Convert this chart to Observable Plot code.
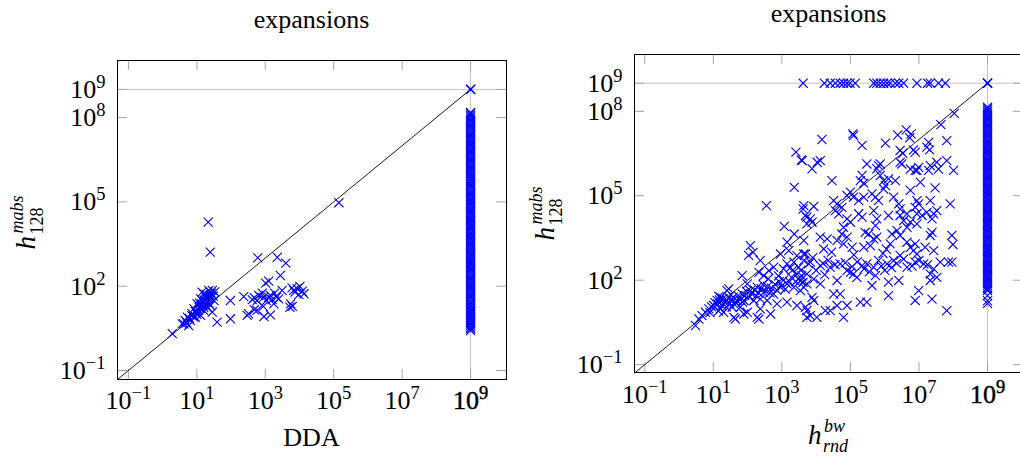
<!DOCTYPE html>
<html><head><meta charset="utf-8">
<script src="https://cdn.jsdelivr.net/npm/d3@7"></script>
<script src="https://cdn.jsdelivr.net/npm/@observablehq/plot@0.6"></script>
<style>
html,body{margin:0;padding:0;background:#fff;overflow:hidden;}
body{width:1020px;height:461px;position:relative;}
.panel{position:absolute;top:0;width:520px;height:461px;}
.panel svg{max-width:none !important;width:520px;height:461px;}
</style></head>
<body>
<div id="left" class="panel" style="left:0px"></div>
<div id="right" class="panel" style="left:520px"></div>
<script>
// ---- data (values stored as log10 exponents) ----
const xTicks = [1e-1, 1e1, 1e3, 1e5, 1e7, 1e9];
const yTicks = [1e-1, 1e2, 1e5, 1e8, 1e9];
const timeout = 1e9;

// left panel: [log10 DDA, log10 h128mabs]
const ddaPoints = [
 [0.28,0.31],[0.62,0.66],[0.76,0.60],[0.72,0.90],[0.86,1.02],[0.91,1.20],[1.01,1.37],[1.11,1.55],[1.20,1.73],
 [1.35,1.85],[1.40,1.67],[1.30,1.43],[1.20,1.14],[1.11,0.96],[0.96,0.90],[1.06,1.25],[1.15,1.37],[1.25,1.61],
 [1.40,1.31],[1.45,1.08],[0.91,0.90],[0.81,0.78],[1.01,1.08],[1.50,1.49],[1.30,1.25],[1.15,1.79],[1.45,1.85],
 [0.95,1.10],[1.00,1.00],[1.05,1.15],[1.08,1.40],[1.12,1.30],[1.18,1.45],[1.22,1.50],[1.25,1.35],[1.28,1.70],
 [1.33,1.55],[1.38,1.60],[1.42,1.75],[1.48,1.65],[1.52,1.80],[0.85,0.95],[0.78,0.85],[0.70,0.70],[0.66,0.78],
 [1.10,1.20],[1.20,1.25],[1.35,1.40],[0.57,0.66],
 [1.59,0.72],[1.98,0.84],[1.98,1.49],[1.33,4.28],[1.39,3.21],[5.15,4.97],
 [2.78,3.01],[3.35,3.03],[3.60,2.82],[3.44,2.38],[3.01,2.11],[3.10,2.18],[2.37,1.63],[2.62,1.52],[2.76,1.49],
 [2.81,1.67],[2.91,1.75],[3.03,1.49],[3.27,1.75],[3.49,1.85],[2.94,1.28],[2.51,1.02],[2.96,0.92],[3.15,0.98],
 [3.78,1.94],[4.01,1.99],[4.13,1.73],[3.74,1.37],[2.68,1.59],[2.96,1.61],[3.10,1.61],[3.15,1.67],[3.20,1.52],
 [3.33,1.61],[3.39,1.55],[3.25,1.37],[2.76,1.14],[2.47,0.96],[2.68,1.16],[3.83,1.85],[3.93,1.91],[4.08,1.82],
 [3.87,1.79],[3.98,1.70],[3.79,1.28],[3.72,1.25]
];
// left panel: log10 h128mabs of instances where DDA hit the 1e9 limit
const ddaTimeoutY = [0.42,0.48,0.53,0.60,0.66,0.71,0.78,0.84,0.90,0.97,1.03,1.09,1.16,1.21,1.28,1.34,1.41,1.46,1.53,1.60,
 1.65,1.72,1.78,1.85,1.91,1.97,2.04,2.10,2.16,2.23,2.29,2.35,2.42,2.48,2.55,2.61,2.67,2.74,2.80,2.86,2.93,2.99,3.05,
 3.12,3.18,3.24,3.31,3.37,3.44,3.50,3.56,3.63,3.69,3.75,3.82,3.88,3.94,4.01,4.07,4.14,4.20,4.26,4.33,4.39,4.45,4.52,
 4.58,4.64,4.71,4.77,4.84,4.90,4.96,5.03,5.09,5.15,5.22,5.28,5.34,5.41,5.47,5.54,5.60,5.66,5.73,5.79,5.85,5.92,5.98,
 6.04,6.11,6.17,6.24,6.30,6.36,6.43,6.49,6.55,6.62,6.68,6.74,6.81,6.87,6.94,7.00,7.06,7.13,7.19,7.25,7.32,7.38,7.44,
 7.51,7.57,7.64,7.70,7.76,7.83,7.89,7.95,8.02,8.08,8.14,8.18,9,9,9];

// right panel: [log10 h_rnd^bw, log10 h128mabs]
const rndPoints = [
 [8.03,7.93],[7.64,7.53],[4.17,7.00],[5.07,7.20],[5.09,7.14],[5.34,6.79],[6.02,6.87],[6.38,7.16],[6.63,7.34],
 [6.77,7.20],[6.73,7.06],[7.81,6.96],[7.28,6.90],[7.23,6.73],[7.31,6.63],[6.84,6.63],[6.89,6.55],[6.45,6.61],
 [6.53,6.51],[3.59,6.25],[4.03,6.19],[4.12,6.25],[3.88,5.96],[5.48,6.13],[5.82,6.07],[5.77,5.96],[5.87,6.13],
 [6.45,6.19],[6.50,6.13],[6.75,5.95],[6.89,5.90],[6.99,6.01],[6.94,5.90],[7.28,5.90],[7.33,6.07],[7.52,6.19],
 [7.57,5.95],[7.81,6.25],[8.01,5.90],[4.46,5.54],[5.34,5.72],[5.29,5.54],[5.39,5.45],[5.87,5.72],[5.97,5.54],
 [6.11,5.60],[6.31,5.54],[6.02,5.36],[5.97,5.24],[6.75,5.19],[7.04,5.48],[7.47,5.28],[5.00,5.13],[4.90,5.01],
 [5.09,4.95],[5.39,4.95],[5.24,4.83],[5.63,5.07],[5.73,4.95],[5.82,4.83],[6.26,4.95],[6.41,4.71],[6.45,4.53],
 [6.94,4.83],[6.99,4.71],[6.89,4.59],[7.33,4.83],[7.23,4.41],[7.52,4.47],[7.91,4.71],[3.64,4.65],[3.93,4.62],
 [3.69,4.30],[3.83,4.18],[3.88,4.06],[4.51,4.83],[4.61,4.71],[4.56,4.47],[4.75,4.59],[4.66,4.36],[4.90,4.18],
 [5.00,4.06],[5.24,4.36],[5.34,4.24],[5.68,4.47],[5.77,4.18],[6.11,4.30],[5.73,3.94],[6.45,4.30],[6.65,4.36],
 [6.55,4.12],[6.75,4.06],[6.94,4.36],[7.09,4.30],[7.43,4.36],[7.38,4.18],
 [3.41,6.55],[3.57,6.27],[3.36,5.30],[2.55,4.65],[3.62,4.53],[3.73,4.24],[3.07,3.91],
 [3.36,3.64],[3.73,4.00],[3.64,3.41],[2.08,3.23],[2.16,2.99],[2.03,2.88],[2.37,2.70],[3.15,3.35],[3.20,3.05],
 [2.96,2.93],[3.44,2.87],[3.69,2.93],[1.84,2.16],[1.45,1.69],[1.16,1.42],[1.40,1.28],[2.33,2.28],[2.47,2.16],
 [2.62,2.34],[2.76,2.46],[3.15,2.58],[3.35,2.64],[3.49,2.46],[3.64,2.70],[3.78,2.58],[3.30,2.34],[3.44,2.22],
 [1.99,1.87],[2.08,1.63],[1.84,1.51],[1.69,1.28],[1.55,1.04],[1.64,0.62],[2.28,1.75],[2.47,1.57],[2.37,1.33],
 [2.57,1.28],[2.76,1.51],[2.96,1.75],[3.15,1.87],[3.35,1.75],[3.54,1.63],[3.73,1.87],[2.86,1.16],[3.15,1.22],
 [3.44,1.10],[2.37,0.98],[1.99,0.86],[2.28,0.68],[2.67,0.80],[3.69,1.04],[3.73,0.68],[1.01,1.10],[1.21,0.98],
 [1.30,0.86],[1.60,1.16],[1.79,1.04],[1.89,1.28],[2.18,1.28],[0.67,0.74],[0.58,0.62],[0.48,0.39],[0.77,0.86],
 [1.11,1.28],[0.87,0.98],[1.45,1.39],[1.21,1.39],[1.40,1.63],[1.60,0.68],[1.89,0.80],[2.33,0.62],
 [1.05,1.20],[1.12,1.15],[1.18,1.30],[1.25,1.10],[1.33,1.22],[1.38,1.05],[1.48,1.18],[1.52,1.30],[1.58,1.40],
 [1.66,1.20],[1.72,1.45],[1.78,1.30],[1.85,1.22],[1.92,1.45],[1.97,1.60],[2.05,1.40],[2.12,1.52],[2.20,1.65],
 [2.25,1.45],[2.32,1.55],[2.40,1.70],[2.45,1.85],[2.52,1.62],[2.58,1.78],[2.65,1.55],[2.70,1.72],[2.80,1.85],
 [2.85,1.65],[2.92,1.95],[3.00,1.80],[3.05,2.00],[3.10,1.68],[3.22,1.95],[3.28,2.10],[3.40,1.95],[3.48,2.05],
 [3.58,2.15],[3.62,1.92],[0.95,1.05],[0.90,0.85],[1.15,0.90],[1.28,1.35],[2.60,2.05],[2.90,2.15],[3.05,2.40],
 [3.25,2.45],[3.55,2.35],
 [7.96,3.59],[7.99,3.27],[7.38,3.70],[7.33,3.59],[6.94,4.00],[6.65,3.88],[6.36,3.76],[6.21,3.64],[6.45,3.59],
 [5.53,3.64],[5.43,3.70],[5.68,3.47],[5.77,3.53],[5.58,3.23],[5.39,3.17],[6.16,3.29],[6.65,3.35],[6.75,3.17],
 [6.89,3.29],[6.84,3.05],[7.18,3.17],[7.43,3.05],[6.94,2.93],[4.80,3.88],[4.75,3.64],[4.90,3.53],[4.61,3.41],
 [4.32,3.47],[4.12,3.53],[4.22,3.11],[4.80,3.29],[5.05,3.17],[3.64,2.93],[3.83,2.64],[4.12,2.52],[4.41,2.46],
 [4.70,2.58],[4.90,2.34],[5.09,2.22],[5.34,2.52],[5.48,2.58],[5.68,2.46],[5.82,2.70],[6.07,2.58],[6.26,2.70],
 [6.45,2.88],[6.65,2.46],[6.89,2.64],[7.14,2.58],[7.43,2.40],[7.62,2.64],[7.86,2.64],[7.96,2.64],[7.33,2.22],
 [7.52,2.10],[7.33,1.99],[3.73,2.22],[3.93,2.04],[4.12,1.87],[3.88,1.39],[3.93,1.28],[3.73,0.92],[3.83,0.74],
 [4.02,0.68],[4.61,1.99],[4.51,1.51],[4.70,1.51],[4.61,1.10],[4.90,1.10],[5.29,1.22],[5.48,1.22],[4.80,0.68],
 [4.27,0.92],[4.41,0.92],[5.73,2.16],[5.63,1.81],[6.11,1.93],[6.41,1.99],[6.11,1.45],[6.99,1.63],[6.89,1.28],
 [7.38,1.33],[7.81,0.92],[5.00,2.28],[5.19,2.10],[3.54,1.99],[3.64,1.75],
 [4.20,2.60],[4.35,2.70],[4.55,2.55],[4.85,2.62],[5.05,2.48],[5.20,2.65],[5.40,2.40],[5.55,2.30],[5.90,2.50],
 [6.00,2.35],[6.20,2.45],[6.35,2.60],[6.55,2.75],[6.80,2.50],[7.00,2.70],[7.25,2.55],[4.00,2.35],[4.25,2.20],
 [3.90,2.80],[4.45,3.00],[5.10,2.90],[5.95,2.95],[6.05,3.10]
];
// right panel: log10 h_rnd^bw of instances where h128mabs hit the 1e9 limit
const rndTopX = [3.62,4.24,4.41,4.56,4.70,4.80,4.90,4.99,5.14,5.68,5.77,5.87,5.97,6.07,6.16,6.31,6.41,6.55,6.94,7.25,7.33,7.57,7.77];
// right panel: log10 h128mabs of instances where h_rnd^bw hit the 1e9 limit
const rndTimeoutY = [1.17,1.27,1.45,1.63,1.69,1.75,1.82,1.88,1.94,2.01,2.07,2.13,2.20,2.26,2.33,2.39,2.45,2.52,2.58,
 2.64,2.71,2.77,2.83,2.90,2.96,3.03,3.09,3.15,3.22,3.28,3.34,3.41,3.47,3.53,3.60,3.66,3.73,3.79,3.85,3.92,3.98,4.04,
 4.11,4.17,4.23,4.30,4.36,4.43,4.49,4.55,4.62,4.68,4.74,4.81,4.87,4.93,5.00,5.06,5.13,5.19,5.25,5.32,5.38,5.44,5.51,
 5.57,5.63,5.70,5.76,5.83,5.89,5.95,6.02,6.08,6.14,6.21,6.27,6.33,6.40,6.46,6.53,6.59,6.65,6.72,6.78,6.84,6.91,6.97,
 7.03,7.10,7.16,7.23,7.29,7.35,7.42,7.48,7.54,7.61,7.67,7.73,7.80,7.86,7.93,7.99,8.05,8.11,8.15,9,9,9];

// ---- drawing ----
const FONT = '"Liberation Serif", "Times New Roman", serif';
const NS = "http://www.w3.org/2000/svg";
function el(tag, attrs) { const e = document.createElementNS(NS, tag); for (const k in attrs) e.setAttribute(k, attrs[k]); return e; }

function makePanel(cfg) {
  const W = 520, H = 461;
  const fw = W - cfg.ml - cfg.mr, fh = H - cfg.mt - cfg.mb;
  const lo = cfg.xdom[0];
  const pts = [
    ...cfg.points.map(d => ({x: 10 ** d[0], y: 10 ** d[1]})),
    ...cfg.timeoutY.map(v => ({x: timeout, y: 10 ** v})),
    ...(cfg.topX || []).map(v => ({x: 10 ** v, y: timeout}))
  ];
  const svg = Plot.plot({
    width: W, height: H,
    marginLeft: cfg.ml, marginRight: cfg.mr, marginTop: cfg.mt, marginBottom: cfg.mb,
    style: {fontFamily: FONT, fontSize: "26px", background: "white", color: "black", maxWidth: "none"},
    x: {type: "log", domain: cfg.xdom},
    y: {type: "log", domain: cfg.ydom},
    marks: [
      Plot.ruleX([timeout], {stroke: "#c4c4c4", strokeWidth: 1}),
      Plot.ruleY([timeout], {stroke: "#c4c4c4", strokeWidth: 1}),
      Plot.ruleX(xTicks, {stroke: "#a6a6a6", insetTop: fh - 10}),
      Plot.ruleX(xTicks, {stroke: "#a6a6a6", insetBottom: fh - 10}),
      Plot.ruleY(yTicks, {stroke: "#a6a6a6", insetRight: fw - 10}),
      Plot.ruleY(yTicks, {stroke: "#a6a6a6", insetLeft: fw - 10}),
      Plot.line([[lo, lo], [timeout, timeout]], {stroke: "black", strokeWidth: 0.9}),
      Plot.dot(pts, {x: "x", y: "y", symbol: "times", r: 4.2, stroke: "#0000ff", fill: "none", strokeWidth: 1.1}),
      Plot.frame({stroke: "black", strokeWidth: 1}),
      Plot.axisX({ticks: xTicks, tickSize: 0, tickPadding: cfg.xpad, label: null, fontSize: 26,
                  tickFormat: d => "10^" + Math.round(Math.log10(d))}),
      Plot.axisY({ticks: yTicks, tickSize: 0, tickPadding: 12, label: null, fontSize: 26,
                  tickFormat: d => "10^" + Math.round(Math.log10(d))})
    ]
  });
  document.getElementById(cfg.id).appendChild(svg);
  // superscript exponents
  svg.querySelectorAll("text").forEach(t => {
    const m = /^10\^(.+)$/.exec(t.textContent);
    if (!m) return;
    t.textContent = "10";
    t.style.fontSize = "26px";
    const ts = el("tspan", {dy: -10});
    ts.style.fontSize = "18.5px";
    ts.textContent = m[1].replace("-", "\u2212");
    t.appendChild(ts);
    if (m[1] === "9" && t.closest('[aria-label="x-axis tick label"]')) {
      t.setAttribute("stroke", "black"); t.setAttribute("stroke-width", "0.45");
    }
  });
  // title
  const title = el("text", {x: cfg.ml + fw / 2, y: cfg.titleY, "text-anchor": "middle", "font-size": 26, fill: "black"});
  title.textContent = "expansions";
  svg.appendChild(title);
  return {svg, fw, fh};
}

function mathLabel(svg, {x, y, rotate, base, sup, sub, supItalic, subItalic}) {
  const g = el("g", {transform: `translate(${x},${y}) rotate(${rotate})`, fill: "black", "text-anchor": "start"});
  svg.appendChild(g);
  const h = el("text", {"font-style": "italic", "font-size": 27, "text-anchor": "start"}); h.textContent = base; g.appendChild(h);
  const s1 = el("text", {"font-size": 18, y: -12, "text-anchor": "start"}); s1.textContent = sup; if (supItalic) s1.setAttribute("font-style", "italic"); g.appendChild(s1);
  const s2 = el("text", {"font-size": 18, y: 7.5, "text-anchor": "start"}); s2.textContent = sub; if (subItalic) s2.setAttribute("font-style", "italic"); g.appendChild(s2);
  const hw = h.getComputedTextLength() + 1.5;
  const w = hw + Math.max(s1.getComputedTextLength(), s2.getComputedTextLength());
  h.setAttribute("x", -w / 2);
  s1.setAttribute("x", -w / 2 + hw + 1);
  s2.setAttribute("x", -w / 2 + hw);
}

const L = makePanel({id: "left", ml: 117, mr: 14, mt: 60, mb: 82, xpad: 11,
  xdom: [10 ** -1.32, 10 ** 10.05], ydom: [10 ** -1.32, 10 ** 10.03],
  points: ddaPoints, timeoutY: ddaTimeoutY, titleY: 28});
const R = makePanel({id: "right", ml: 114, mr: 17, mt: 54, mb: 89, xpad: 12,
  xdom: [10 ** -1.30, 10 ** 10.05], ydom: [10 ** -1.28, 10 ** 10.02],
  points: rndPoints, timeoutY: rndTimeoutY, topX: rndTopX, titleY: 22});

// x labels
const dda = el("text", {x: 311.5, y: 446, "text-anchor": "middle", "font-size": 26, fill: "black"});
dda.textContent = "DDA"; L.svg.appendChild(dda);
mathLabel(R.svg, {x: 308, y: 444, rotate: 0, base: "h", sup: "bw", sub: "rnd", supItalic: true, subItalic: true});
// y labels
mathLabel(L.svg, {x: 35, y: 223, rotate: -90, base: "h", sup: "mabs", sub: "128", supItalic: true, subItalic: false});
mathLabel(R.svg, {x: 34, y: 214, rotate: -90, base: "h", sup: "mabs", sub: "128", supItalic: true, subItalic: false});
</script>
</body></html>
